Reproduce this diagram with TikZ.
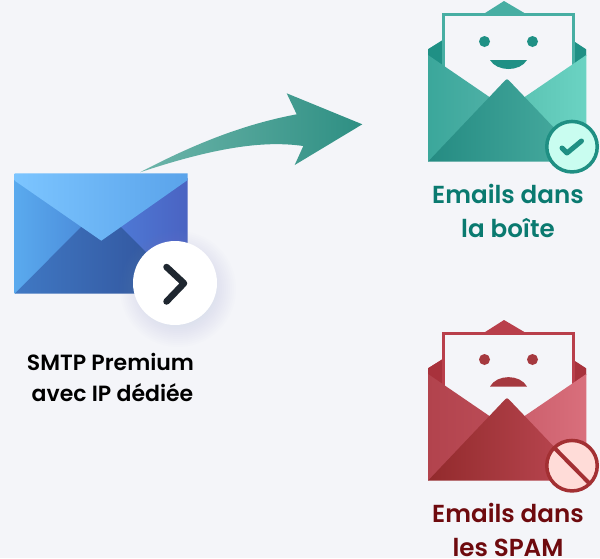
\documentclass[tikz,border=0pt]{standalone}
\usepackage{fontspec}
\setmainfont{Poppins}[BoldFont={Poppins SemiBold}]
\newcommand{\hexc}[1]{\definecolor{c#1}{HTML}{#1}}
\definecolor{bgc}{HTML}{F4F5F9}
\hexc{6DB5AA}\hexc{2E8F83}\hexc{5AAAEE}\hexc{4682D4}\hexc{4F7FDA}\hexc{4A63C2}\hexc{4079C4}\hexc{2F4E96}\hexc{7CC5FF}\hexc{5AA3EA}
\hexc{9AA6C8}\hexc{1F2730}\hexc{47AEA3}\hexc{1F9085}\hexc{3BA79B}\hexc{52B2A8}\hexc{58C0B0}\hexc{6BD3C3}\hexc{258B82}\hexc{4AAEA2}
\hexc{1F8F83}\hexc{C9FDF0}\hexc{B93F4B}\hexc{A8323C}\hexc{B2434D}\hexc{BC4D58}\hexc{C95C69}\hexc{D96F7C}\hexc{922A2C}\hexc{BE4A55}
\hexc{A5393F}\hexc{A33033}\hexc{FFDCD8}\hexc{0A7A70}\hexc{6E0A0E}
\tikzset{
  caption/.style={anchor=base,font=\fontsize{22}{26}\selectfont\bfseries,text=black,inner sep=0pt},
  result/.style={anchor=base,font=\fontsize{24.6}{30}\selectfont\bfseries,inner sep=0pt},
  grad/.style 2 args={left color=#1,right color=#2}
}
% #1 yshift, then colours: #2 back, #3 sides, #4 left a, #5 left b, #6 right a, #7 right b, #8 front a, #9 front b
\newcommand{\openenvelope}[9]{%
\begin{scope}[yshift=#1*-1pt]
  \fill[#2] (428,49.3) -- (504,1) -- (586,49.3) -- (586,56) -- (507,110) -- (428,56) -- cycle;
  \fill[#3] (428,49.3) -- (442,40.7) -- (442,70) -- (428,56) -- cycle;
  \fill[#3] (586,49.3) -- (575,42) -- (575,70) -- (586,56) -- cycle;
  \draw[draw=#2,fill=bgc,line width=3pt] (443.5,14.5) rectangle (573.5,110);
  \shade[grad={#4}{#5}] (428,55) -- (507,109) -- (428,161.7) -- cycle;
  \shade[grad={#6}{#7}] (586.3,55) -- (507,109) -- (586.3,161.7) -- cycle;
  \shade[grad={#8}{#9}] (428,161.7) -- (505.5,80) .. controls (506.5,79) and (507.5,79) .. (508.5,80) -- (586.3,161.7) -- cycle;
\end{scope}}
\begin{document}
\begin{tikzpicture}[x=1pt,y=-1pt]
\useasboundingbox (0,0) rectangle (600,558);
\fill[bgc] (0,0) rectangle (600,558);

% arrow
\shade[grad={c6DB5AA}{c2E8F83},draw=none]
  (140,172.3) .. controls (196,143) and (245,124) .. (296.7,114.3)
  -- (286.7,93.3) -- (362.3,124.3) -- (294.7,165) -- (303.3,146)
  .. controls (268,141) and (222,145) .. (140,172.3) -- cycle;

% blue envelope
\shade[grad={c5AAAEE}{c4682D4}] (14.7,178) -- (110,240) -- (14.7,293.7) -- cycle;
\shade[grad={c4F7FDA}{c4A63C2}] (187.7,178) -- (100,240) -- (187.7,293.7) -- cycle;
\shade[grad={c4079C4}{c2F4E96}] (14.7,293.7) -- (101,207) -- (187.7,293.7) -- cycle;
\shade[grad={c7CC5FF}{c5AA3EA}] (14.7,173.3) -- (187.7,173.3) -- (187.7,180) -- (101.3,240.7) -- (14.7,180.7) -- cycle;

% round button with soft shadow
\foreach \r in {58,56,...,36}{\fill[c9AA6C8,opacity=0.014] (178,289) circle[radius=\r];}
\node[circle,fill=white,minimum size=84pt,inner sep=0pt] (btn) at (175,283) {};
\draw[c1F2730,line width=6.5pt,line cap=round,line join=round] (166.5,267) -- (184,283.3) -- (166.5,301.5);

% green envelope
\openenvelope{0}{c47AEA3}{c1F9085}{c3BA79B}{c52B2A8}{c58C0B0}{c6BD3C3}{c258B82}{c4AAEA2}
\fill[c1F9085] (484.5,41.5) circle[radius=5.5] (532.5,41.5) circle[radius=5.5];
\fill[c1F9085] (490,60) -- (527,60) .. controls (520,72) and (497,72) .. (490,60) -- cycle;
\node[circle,draw=c1F8F83,fill=cC9FDF0,line width=3.5pt,minimum size=50.5pt,inner sep=0pt] (okbadge) at (572,146.7) {};
\draw[c1F8F83,line width=5pt,line cap=round,line join=round] (562,148) -- (567,153) -- (581.5,141);

% red envelope
\openenvelope{319}{cB93F4B}{cA8323C}{cB2434D}{cBC4D58}{cC95C69}{cD96F7C}{c922A2C}{cBE4A55}
\fill[cA5393F] (484.5,359.5) circle[radius=5.5] (532.5,359.5) circle[radius=5.5];
\fill[cA5393F] (490,386.5) -- (527,386.5) .. controls (520,374) and (497,374) .. (490,386.5) -- cycle;
\node[circle,draw=cA33033,fill=cFFDCD8,line width=3.5pt,minimum size=50.5pt,inner sep=0pt] (nobadge) at (572,465.7) {};
\draw[cA33033,line width=4pt] (553.5,447) -- (590.5,484.5);

% labels
\node[caption] (smtp1) at (110.5,370) {SMTP Premium};
\node[caption] (smtp2) at (112.5,401.5) {avec IP dédiée};
\node[result,text=c0A7A70] (ok1) at (508,203) {Emails dans};
\node[result,text=c0A7A70] (ok2) at (508,237.5) {la boîte};
\node[result,text=c6E0A0E] (no1) at (508,522) {Emails dans};
\node[result,text=c6E0A0E] (no2) at (508,556) {les SPAM};
\end{tikzpicture}
\end{document}
